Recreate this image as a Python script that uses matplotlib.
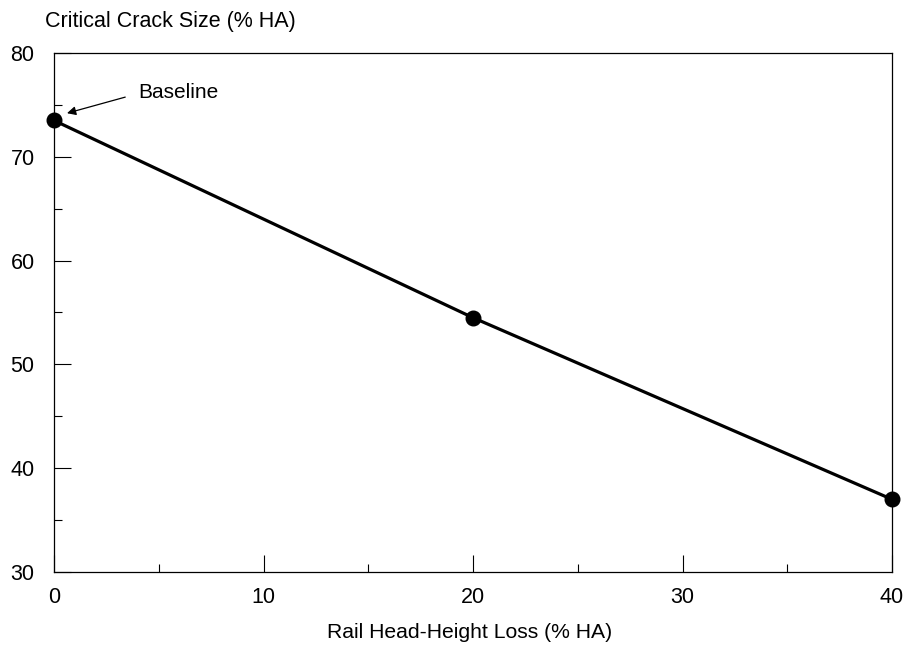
import matplotlib
matplotlib.use("Agg")
import matplotlib.pyplot as plt
from matplotlib.ticker import MultipleLocator

plt.rcParams['font.family'] = ['Liberation Sans', 'DejaVu Sans']

# Data
head_loss = [0, 20, 40]
crack_size = [73.5, 54.5, 37.0]

fig = plt.figure(figsize=(9.09, 6.52), dpi=100)
ax = fig.add_axes([54 / 909, 1 - 572 / 652, 838 / 909, 519 / 652])

ax.plot(head_loss, crack_size, color='black', lw=2.3, marker='o', ms=10.5,
        clip_on=False, zorder=3)

ax.set_xlim(0, 40)
ax.set_ylim(30, 80)
ax.xaxis.set_major_locator(MultipleLocator(10))
ax.xaxis.set_minor_locator(MultipleLocator(5))
ax.yaxis.set_major_locator(MultipleLocator(10))
ax.yaxis.set_minor_locator(MultipleLocator(5))
ax.tick_params(which='both', direction='in', labelsize=15.5, width=0.8,
               top=False, right=False)
ax.tick_params(axis='x', which='both', pad=11)
ax.tick_params(axis='y', which='both', pad=14)
ax.tick_params(which='major', length=12)
ax.tick_params(which='minor', length=6)
for s in ax.spines.values():
    s.set_linewidth(0.9)

# baseline callout
ax.text(4.0, 76.2, 'Baseline', fontsize=15, ha='left', va='center')
ax.annotate('', xy=(0.62, 74.2), xytext=(3.4, 75.75),
            arrowprops=dict(arrowstyle='-|>', color='black', lw=0.9,
                            shrinkA=0, shrinkB=0, mutation_scale=13))

fig.text(470 / 909, 1 - 633 / 652, 'Rail Head-Height Loss (% HA)',
         fontsize=15.2, ha='center', va='center')
fig.text(45 / 909, 1 - 21 / 652, 'Critical Crack Size (% HA)', fontsize=15.5,
         ha='left', va='center')

fig.savefig('out.png', dpi=100)
